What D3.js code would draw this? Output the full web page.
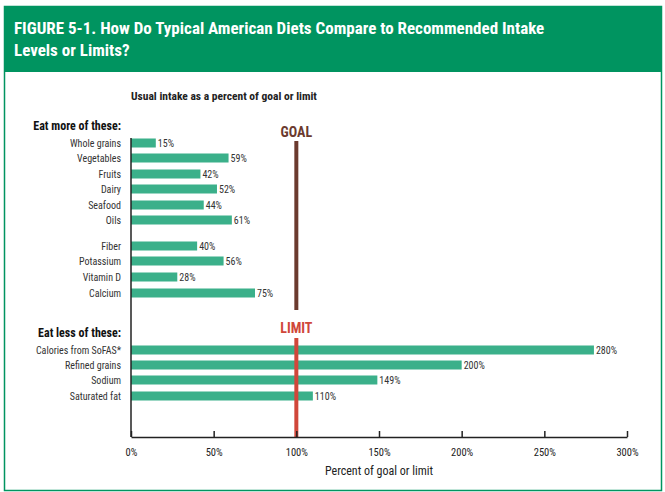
<!DOCTYPE html><html><head><meta charset="utf-8"><script src="https://cdn.jsdelivr.net/npm/d3@7"></script>
<style>body{margin:0;background:#fff}text{font-family:"Liberation Sans Narrow","Roboto Condensed","Liberation Sans",sans-serif}</style></head><body><svg id="c" width="665" height="492"></svg>
<script>
const categories=["Whole grains","Vegetables","Fruits","Dairy","Seafood","Oils","Fiber","Potassium","Vitamin D","Calcium","Calories from SoFAS*","Refined grains","Sodium","Saturated fat"];
const values=[15,59,42,52,44,61,40,56,28,75,280,200,149,110];
const rowY=[143,158,174,189,205,220,246,261,277,293,350,365,380,396];
const tickValues=[0,50,100,150,200,250,300];
const svg=d3.select("#c");
const G="#009460";
svg.append("rect").attr("x",4.5).attr("y",6.5).attr("width",657).attr("height",484).attr("fill","#fff").attr("stroke",G).attr("stroke-width",1.5);
svg.append("rect").attr("x",4).attr("y",6).attr("width",658).attr("height",66).attr("fill",G);
svg.append("text").attr("x",14).attr("y",34).attr("fill","#fff").attr("font-size",17).attr("font-weight","bold").text("FIGURE 5-1. How Do Typical American Diets Compare to Recommended Intake");
svg.append("text").attr("x",14).attr("y",56).attr("fill","#fff").attr("font-size",17).attr("font-weight","bold").text("Levels or Limits?");
svg.append("text").attr("x",131).attr("y",100).attr("font-size",11.5).attr("font-weight","bold").attr("fill","#222").text("Usual intake as a percent of goal or limit");
const x=d3.scaleLinear().domain([0,300]).range([131,627]);
svg.append("g").selectAll("rect").data(values).join("rect").attr("x",x(0)).attr("y",(d,i)=>rowY[i]-4.5).attr("width",d=>x(d)-x(0)).attr("height",9).attr("fill","#3bb08a");
svg.append("g").selectAll("text").data(values).join("text").attr("x",d=>x(d)+2).attr("y",(d,i)=>rowY[i]+4).attr("font-size",10).attr("fill","#333").text(d=>d+"%");
svg.append("g").selectAll("text").data(categories).join("text").attr("x",121).attr("y",(d,i)=>rowY[i]+4).attr("text-anchor","end").attr("font-size",10).attr("fill","#333").text(d=>d);
svg.append("text").attr("x",121).attr("y",130).attr("text-anchor","end").attr("font-size",12).attr("font-weight","bold").attr("fill","#111").text("Eat more of these:");
svg.append("text").attr("x",121).attr("y",337).attr("text-anchor","end").attr("font-size",12).attr("font-weight","bold").attr("fill","#111").text("Eat less of these:");
svg.append("line").attr("x1",x(100)).attr("x2",x(100)).attr("y1",141).attr("y2",310).attr("stroke","#6b3a2e").attr("stroke-width",4);
svg.append("text").attr("x",x(100)).attr("y",137).attr("text-anchor","middle").attr("font-size",14).attr("font-weight","bold").attr("fill","#6b3a2e").text("GOAL");
svg.append("line").attr("x1",x(100)).attr("x2",x(100)).attr("y1",338).attr("y2",437).attr("stroke","#d0473a").attr("stroke-width",4);
svg.append("text").attr("x",x(100)).attr("y",333).attr("text-anchor","middle").attr("font-size",14).attr("font-weight","bold").attr("fill","#d0473a").text("LIMIT");
const ax=svg.append("g").attr("transform","translate(0,437)").call(d3.axisBottom(x).tickValues(tickValues).tickSizeInner(-6).tickSizeOuter(0).tickPadding(12).tickFormat(d=>d+"%"));
ax.select(".domain").attr("stroke","#222").attr("stroke-width",1.5);
ax.selectAll(".tick line").attr("stroke","#222").attr("stroke-width",1.5);
ax.selectAll("text").attr("font-size",10.5).attr("fill","#222");
svg.append("line").attr("x1",131).attr("x2",131).attr("y1",138).attr("y2",437).attr("stroke","#222").attr("stroke-width",1.5);
svg.append("text").attr("x",379).attr("y",475).attr("text-anchor","middle").attr("font-size",12).attr("fill","#222").text("Percent of goal or limit");
</script></body></html>
